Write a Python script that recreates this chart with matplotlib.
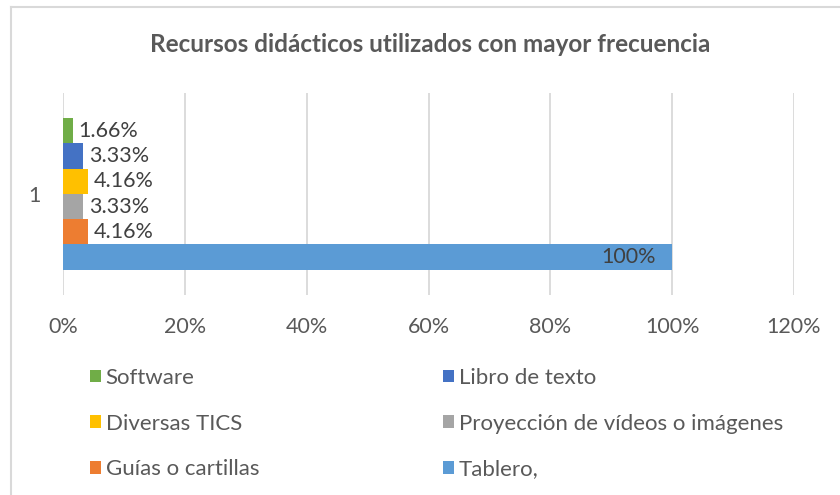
import matplotlib
matplotlib.use("Agg")
import matplotlib.pyplot as plt
from matplotlib.lines import Line2D
from matplotlib.patches import Patch

# ---- data ----
title = "Recursos didácticos utilizados con mayor frecuencia"
category = "1"
series = ["Software", "Libro de texto", "Diversas TICS",
          "Proyección de vídeos o imágenes", "Guías o cartillas", "Tablero,"]
values = [1.66, 3.33, 4.16, 3.33, 4.16, 100]
colors = ["#70AD47", "#4472C4", "#FFC000", "#A5A5A5", "#ED7D31", "#5B9BD5"]
xticks = [0, 20, 40, 60, 80, 100, 120]

plt.rcParams['font.family'] = ['Lato', 'DejaVu Sans']
txt = "#595959"
fs = 15.5

fig = plt.figure(figsize=(8.4, 4.95), dpi=100)
ax = fig.add_axes([63/840, 1-295/495, (794-63)/840, (295-93)/495])

n = len(values)
h = 1.0
for i, (name, v, c) in enumerate(zip(series, values, colors)):
    y = (n - 1) / 2 - i  # top to bottom
    ax.barh(y, v, height=h, color=c, label=name, zorder=3)
    lab = f"{v:g}%" if v == int(v) else f"{v:.2f}%"
    if v >= 50:
        ax.annotate(lab, (v, y), xytext=(-12, 0), textcoords="offset points",
                    ha="right", va="center", fontsize=fs, color="#404040", zorder=4)
    else:
        ax.annotate(lab, (v, y), xytext=(4, 0), textcoords="offset points",
                    ha="left", va="center", fontsize=fs, color="#404040", zorder=4)

ax.set_xlim(0, 120)
ax.set_ylim(-4, 4)
ax.set_xticks(xticks)
ax.set_xticklabels([f"{t}%" for t in xticks], fontsize=fs, color=txt)
ax.set_yticks([0])
ax.set_yticklabels([category], fontsize=fs, color=txt)
ax.tick_params(axis="both", length=0)
ax.tick_params(axis="x", pad=16)
ax.tick_params(axis="y", pad=16)
ax.grid(axis="x", color="#D9D9D9", lw=1.3, zorder=0)
for s in ax.spines.values():
    s.set_visible(False)

fig.text(430/840, 1-45/495, title, ha="center", va="center",
         fontsize=17.5, fontweight="bold", color=txt)

handles = [Patch(facecolor=c, edgecolor="none") for c in colors]
left_idx = [0, 2, 4]
right_idx = [1, 3, 5]
for idx, xpos in ((left_idx, 90/840), (right_idx, 443/840)):
    leg = fig.legend([handles[i] for i in idx], [series[i] for i in idx],
                     loc="upper left", bbox_to_anchor=(xpos, 1-368/495),
                     frameon=False, fontsize=16, labelspacing=1.15,
                     handlelength=0.5, handleheight=0.5, handletextpad=0.2,
                     borderaxespad=0, borderpad=0)
    for t in leg.get_texts():
        t.set_color(txt)

fig.add_artist(Line2D([11/840, 11/840], [0, 1-7/495], transform=fig.transFigure,
                      color="#D9D9D9", lw=1.5))
fig.add_artist(Line2D([11/840, 1], [1-7/495, 1-7/495], transform=fig.transFigure,
                      color="#D9D9D9", lw=1.5))

fig.savefig("out.png", dpi=100)
